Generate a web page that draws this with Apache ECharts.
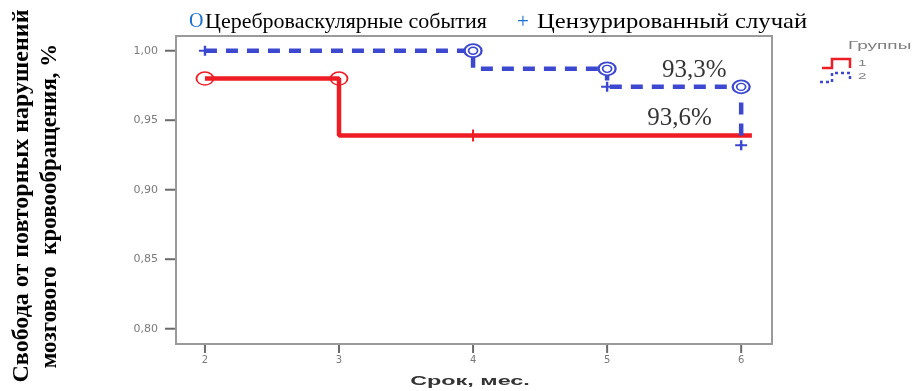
<!DOCTYPE html>
<html><head><meta charset="utf-8">
<script src="https://cdn.jsdelivr.net/npm/echarts@6/dist/echarts.min.js"></script>
<style>html,body{margin:0;padding:0;background:#fff}#c{width:915px;height:391px}</style>
</head><body><div id="c"></div>
<script>
// ---- data ----
const xTicks = [2, 3, 4, 5, 6];
const yTicks = [0.80, 0.85, 0.90, 0.95, 1.00];
const xRange = [1.784, 6.23];
const yRange = [0.789, 1.0106];
// Kaplan-Meier step curves (time, survival)
const group1Curve = [[2, 0.980], [3, 0.939], [6.08, 0.939]];
const group2Curve = [[2, 1.000], [4, 0.987], [5, 0.974], [6, 0.932]];
// event markers (circles) and censored markers (plus)
const group1Events = [[2, 0.980], [3, 0.980]];
const group1Censored = [[4, 0.939]];
const group2Events = [[4, 1.000], [5, 0.987], [6, 0.974]];
const group2Censored = [[2, 1.000], [5, 0.974], [6, 0.932]];
const finalLabels = [
  { text: '93,3%', x: 5.65, y: 0.9855 },
  { text: '93,6%', x: 5.54, y: 0.951 }
];
const groupNames = ['1', '2'];
const legendTitle = 'Группы';
const topLegend = ['Цереброваскулярные события', 'Цензурированный случай'];
const yTitle = ['Свобода от повторных нарушений', 'мозгового  кровообращения, %'];
const xTitle = 'Срок, мес.';

const RED = '#ee1c24', BLUE = '#3b48cf';
const plusPath = 'path://M4,0 L6,0 L6,4 L10,4 L10,6 L6,6 L6,10 L4,10 L4,6 L0,6 L0,4 L4,4 Z';

const chart = echarts.init(document.getElementById('c'));
const fmt = v => v.toFixed(2).replace('.', ',');
chart.setOption({
  animation: false,
  grid: { left: 176, top: 36, width: 596, height: 308, show: true, borderColor: '#9a9a9a', borderWidth: 2 },
  xAxis: {
    type: 'value', min: xRange[0], max: xRange[1],
    axisLine: { show: true, onZero: false, lineStyle: { color: '#9a9a9a', width: 2 } },
    axisTick: { show: false },
    axisLabel: { show: true, customValues: xTicks, color: '#7a7a7a', fontSize: 10, fontFamily: 'DejaVu Sans', margin: 11 },
    splitLine: { show: false }
  },
  yAxis: {
    type: 'value', min: yRange[0], max: yRange[1],
    axisLine: { show: true, onZero: false, lineStyle: { color: '#9a9a9a', width: 2 } },
    axisTick: { show: false },
    axisLabel: { show: true, customValues: yTicks, color: '#7a7a7a', fontSize: 11, fontFamily: 'DejaVu Sans', margin: 18, formatter: fmt },
    splitLine: { show: false }
  },
  series: [
    // tick marks placed through the axes' scales
    { type: 'scatter', clip: false, silent: true, data: yTicks.map(v => [xRange[0], v]), symbol: 'rect', symbolSize: [10, 2], symbolOffset: [-6, 0], itemStyle: { color: '#6a6a6a', opacity: 1 }, z: 2 },
    { type: 'scatter', clip: false, silent: true, data: xTicks.map(v => [v, yRange[0]]), symbol: 'rect', symbolSize: [2, 8], symbolOffset: [0, 5], itemStyle: { color: '#6a6a6a', opacity: 1 }, z: 2 },
    { type: 'line', step: 'end', data: group1Curve, showSymbol: false, lineStyle: { color: RED, width: 4.5 }, z: 3 },
    { type: 'line', step: 'end', data: group2Curve, showSymbol: false, lineStyle: { color: BLUE, width: 4.5, type: [12, 9] }, z: 3 },
    { type: 'scatter', data: group1Events, symbol: 'circle', symbolSize: [17, 13], itemStyle: { color: 'rgba(255,255,255,0)', borderColor: RED, borderWidth: 1.6, opacity: 1 }, z: 4 },
    { type: 'scatter', data: group2Events, symbol: 'circle', symbolSize: [17, 13], itemStyle: { color: '#fff', borderColor: BLUE, borderWidth: 2, opacity: 1 }, z: 4 },
    { type: 'scatter', data: group2Events, symbol: 'circle', symbolSize: [9, 7], itemStyle: { color: '#fff', borderColor: BLUE, borderWidth: 1.5, opacity: 1 }, z: 5 },
    { type: 'scatter', data: group1Censored, symbol: plusPath, symbolSize: [10, 12], itemStyle: { color: RED, opacity: 1 }, z: 4 },
    { type: 'scatter', data: group2Censored, symbol: plusPath, symbolSize: [12, 10], itemStyle: { color: BLUE, opacity: 1 }, z: 4 },
    { type: 'scatter', data: finalLabels.map(d => [d.x, d.y, d.text]), symbolSize: 0,
      label: { show: true, position: 'inside', formatter: p => p.value[2], color: '#000', fontSize: 25, fontFamily: 'Liberation Serif' }, z: 6 }
  ],
  graphic: [
    { type: 'text', x: 189, y: 22, style: { text: 'О', fontFamily: 'Liberation Serif', fontSize: 20, fill: '#1a6fd0', verticalAlign: 'middle' } },
    { type: 'text', x: 205, y: 22, scaleX: 1.0, style: { text: topLegend[0], fontFamily: 'Liberation Serif', fontSize: 22, fill: '#000', verticalAlign: 'middle' } },
    { type: 'text', x: 517, y: 22, style: { text: '+', fontFamily: 'Liberation Serif', fontSize: 21, fill: '#1a6fd0', verticalAlign: 'middle' } },
    { type: 'text', x: 537, y: 22, scaleX: 1.12, style: { text: topLegend[1], fontFamily: 'Liberation Serif', fontSize: 22, fill: '#000', verticalAlign: 'middle' } },
    { type: 'text', x: 22, y: 196, rotation: Math.PI / 2, style: {
        text: yTitle[0], fontFamily: 'Liberation Serif', fontWeight: 'bold', fontSize: 24,
        fill: '#000', align: 'center', verticalAlign: 'middle' } },
    { type: 'text', x: 50, y: 206, rotation: Math.PI / 2, style: {
        text: yTitle[1], fontFamily: 'Liberation Serif', fontWeight: 'bold', fontSize: 23,
        fill: '#000', align: 'center', verticalAlign: 'middle' } },
    { type: 'text', x: 470, y: 382, scaleX: 1.95, style: { text: xTitle, fontFamily: 'Liberation Sans', fontWeight: 'bold', fontSize: 12, fill: '#333', align: 'center', verticalAlign: 'middle' } },
    { type: 'text', x: 848, y: 46, scaleX: 1.9, style: { text: legendTitle, fontFamily: 'Liberation Sans', fontSize: 10, fill: '#808080', verticalAlign: 'middle' } },
    { type: 'polyline', shape: { points: [[822, 68], [832, 68], [832, 59], [850, 59], [850, 68]] }, style: { stroke: RED, lineWidth: 2.5, fill: null } },
    { type: 'text', x: 858, y: 64, scaleX: 1.7, style: { text: groupNames[0], fontFamily: 'Liberation Sans', fontSize: 9, fill: '#808080', verticalAlign: 'middle' } },
    { type: 'polyline', shape: { points: [[820, 82], [832, 82], [832, 73], [850, 73], [850, 82]] }, style: { stroke: BLUE, lineWidth: 2.5, fill: null, lineDash: [3, 3] } },
    { type: 'text', x: 858, y: 77, scaleX: 1.7, style: { text: groupNames[1], fontFamily: 'Liberation Sans', fontSize: 9, fill: '#808080', verticalAlign: 'middle' } }
  ]
});
</script></body></html>
